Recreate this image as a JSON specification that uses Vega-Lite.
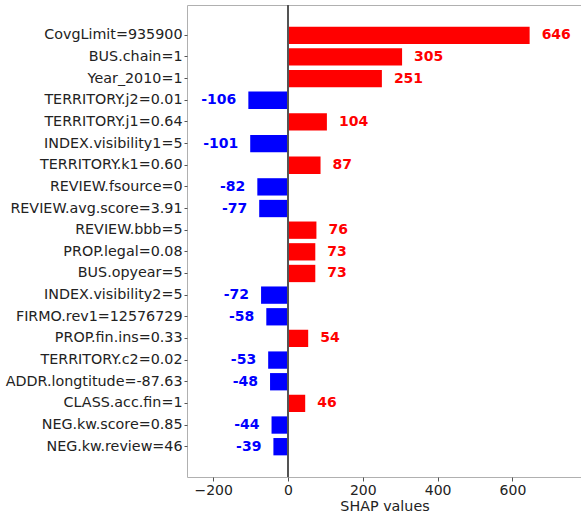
{
  "$schema": "https://vega.github.io/schema/vega-lite/v6.json",
  "autosize": {"type": "none"},
  "width": 395,
  "height": 472,
  "padding": {"left": 187, "top": 5, "right": 0, "bottom": 35},
  "config": {
    "font": "DejaVu Sans",
    "view": {"stroke": "#b0b0b0", "strokeWidth": 1},
    "axis": {"grid": false, "domain": false, "labelFont": "DejaVu Sans", "titleFont": "DejaVu Sans", "labelColor": "#222", "titleColor": "#222", "tickColor": "#555"}
  },
  "data": {"values": [
    {"feature": "CovgLimit=935900", "value": 646},
    {"feature": "BUS.chain=1", "value": 305},
    {"feature": "Year_2010=1", "value": 251},
    {"feature": "TERRITORY.j2=0.01", "value": -106},
    {"feature": "TERRITORY.j1=0.64", "value": 104},
    {"feature": "INDEX.visibility1=5", "value": -101},
    {"feature": "TERRITORY.k1=0.60", "value": 87},
    {"feature": "REVIEW.fsource=0", "value": -82},
    {"feature": "REVIEW.avg.score=3.91", "value": -77},
    {"feature": "REVIEW.bbb=5", "value": 76},
    {"feature": "PROP.legal=0.08", "value": 73},
    {"feature": "BUS.opyear=5", "value": 73},
    {"feature": "INDEX.visibility2=5", "value": -72},
    {"feature": "FIRMO.rev1=12576729", "value": -58},
    {"feature": "PROP.fin.ins=0.33", "value": 54},
    {"feature": "TERRITORY.c2=0.02", "value": -53},
    {"feature": "ADDR.longtitude=-87.63", "value": -48},
    {"feature": "CLASS.acc.fin=1", "value": 46},
    {"feature": "NEG.kw.score=0.85", "value": -44},
    {"feature": "NEG.kw.review=46", "value": -39}
  ]},
  "encoding": {
    "y": {"field": "feature", "type": "nominal", "sort": null,
      "scale": {"paddingInner": 0.2, "paddingOuter": 1.0},
      "axis": {"title": null, "labelFontSize": 14.3, "tickSize": 3, "labelPadding": 2, "labelLimit": 300}}
  },
  "layer": [
    {
      "mark": {"type": "bar"},
      "encoding": {
        "x": {"field": "value", "type": "quantitative",
          "scale": {"domain": [-270, 786], "nice": false, "zero": false},
          "axis": {"title": "SHAP values", "values": [-200, 0, 200, 400, 600], "labelFontSize": 14, "titleFontSize": 14.3, "titleFontWeight": "normal", "tickSize": 4, "labelPadding": 2, "titlePadding": 2, "labelExpr": "replace(datum.label, '-', '\u2212')"}},
        "color": {"condition": {"test": "datum.value > 0", "value": "#ff0000"}, "value": "#0000ff"}
      }
    },
    {
      "mark": {"type": "rule", "color": "#555", "strokeWidth": 1.2},
      "encoding": {"x": {"datum": 0, "type": "quantitative"}, "y": {"value": 0}, "y2": {"value": 472}}
    },
    {
      "transform": [{"filter": "datum.value > 0"}],
      "mark": {"type": "text", "align": "left", "baseline": "middle", "dx": 12, "fontSize": 14, "fontWeight": "bold", "color": "#ff0000"},
      "encoding": {"x": {"field": "value", "type": "quantitative"}, "text": {"field": "value", "type": "nominal"}}
    },
    {
      "transform": [{"filter": "datum.value < 0"}],
      "mark": {"type": "text", "align": "right", "baseline": "middle", "dx": -12, "fontSize": 14, "fontWeight": "bold", "color": "#0000ff"},
      "encoding": {"x": {"field": "value", "type": "quantitative"}, "text": {"field": "value", "type": "nominal"}}
    }
  ]
}
